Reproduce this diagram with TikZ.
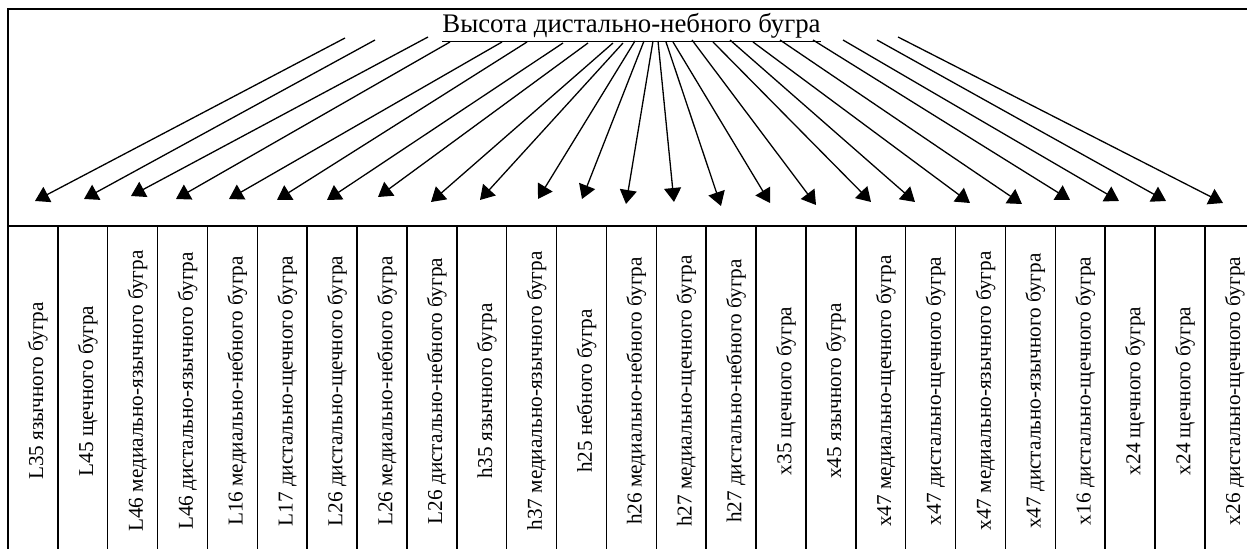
\documentclass[tikz,border=0pt]{standalone}
\usepackage{fontspec}
\setmainfont{Liberation Serif}
\usetikzlibrary{arrows.meta}

\begin{document}
\begin{tikzpicture}[x=0.5pt, y=-0.5pt,
  frame/.style = {black, line width=0.75pt},
  arr/.style = {black, line width=0.65pt, -{Triangle[length=7pt, width=8.5pt]}},
  col/.style = {rotate=90, inner sep=0pt, font=\fontsize{10.6}{12}\selectfont},
  title/.style = {inner sep=0pt, font=\fontsize{13.4}{16}\selectfont}]

\useasboundingbox (0,0) rectangle (1247,549);

\draw[frame] (1247,9) -- (8,9) -- (8,549);
\draw[frame] (8,226) -- (1247,226);
\foreach \k in {1,...,24}
  \draw[frame] ({8+49.87*\k},226) -- ({8+49.87*\k},549);

\node[title, anchor=base] (title) at (631.5,33) {\underline{Высота дистально-небного бугра}};

\foreach \i/\sx/\sy/\ex/\ey in {1/345/38/35/201, 2/375/40/84/199, 3/428/37/131/196,
    4/450/42/176/199, 5/502/42/229/199, 6/527/42/277/200, 7/563/43/327/200,
    8/588/43/378/197, 9/613/43/431/202, 10/623/43/480/200, 11/635/41/538/199,
    12/644/41/582/199, 13/653/41/626/204, 14/658/41/674/202, 15/666/42/721/206,
    16/673/42/770/203, 17/692/40/816/205, 18/713/42/871/202, 19/730/40/915/202,
    20/753/42/970/203, 21/780/40/1022/204, 22/813/40/1070/200, 23/843/40/1119/201,
    24/877/40/1166/201, 25/898/37/1223/203} {
  \coordinate (s\i) at (\sx,\sy);
  \coordinate (e\i) at (\ex,\ey);
  \draw[arr] (s\i) -- (e\i);
}

\foreach \t [count=\i] in {L35 язычного бугра, L45 щечного бугра,
    L46 медиально-язычного бугра, L46 дистально-язычного бугра,
    L16 медиально-небного бугра, L17 дистально-щечного бугра,
    L26 дистально-щечного бугра, L26 медиально-небного бугра,
    L26 дистально-небного бугра, h35 язычного бугра,
    h37 медиально-язычного бугра, h25 небного бугра,
    h26 медиально-небного бугра, h27 медиально-щечного бугра,
    h27 дистально-небного бугра, x35 щечного бугра, x45 язычного бугра,
    x47 медиально-щечного бугра, x47 дистально-щечного бугра,
    x47 медиально-язычного бугра, x47 дистально-язычного бугра,
    x16 дистально-щечного бугра, x24 щечного бугра, x24 щечного бугра,
    x26 дистально-щечного бугра}
  \node[col] (c\i) at ({8+49.87*(\i-0.5)+5},391) {\t};

\end{tikzpicture}
\end{document}
